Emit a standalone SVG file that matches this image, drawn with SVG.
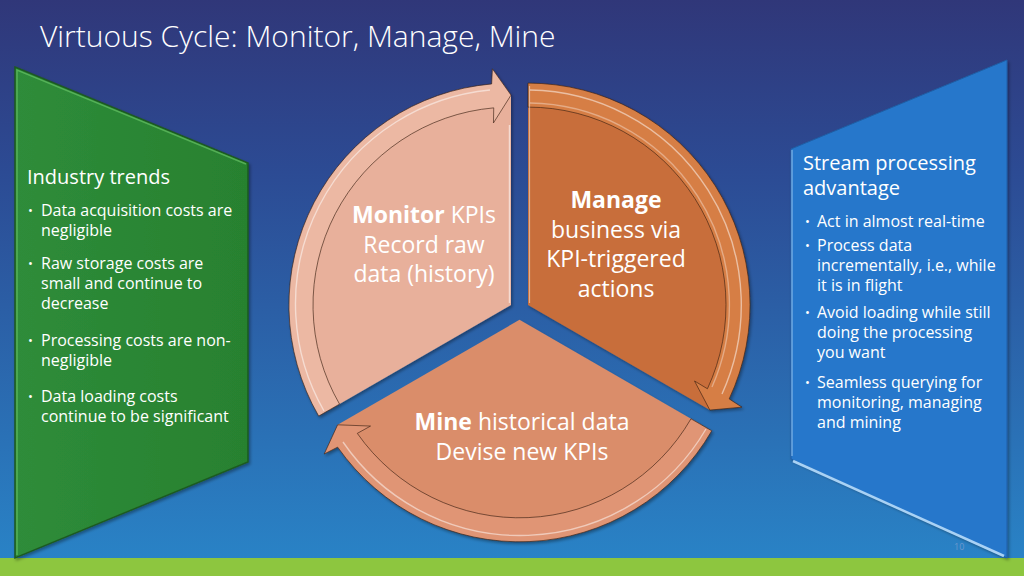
<svg xmlns="http://www.w3.org/2000/svg" width="1024" height="576" viewBox="0 0 1024 576">
<defs>
<linearGradient id="bg" x1="0" y1="0" x2="0" y2="1">
<stop offset="0" stop-color="#303779"/>
<stop offset="0.3" stop-color="#2C4B94"/>
<stop offset="1" stop-color="#2985C8"/>
</linearGradient>
<linearGradient id="gGreen" x1="0" y1="0" x2="1" y2="0">
<stop offset="0" stop-color="#2E8C3A"/>
<stop offset="1" stop-color="#28812F"/>
</linearGradient>
<filter id="sh" x="-10%" y="-10%" width="120%" height="120%">
<feDropShadow dx="1.5" dy="2" stdDeviation="1.5" flood-color="#000" flood-opacity="0.35"/>
</filter>
<style>
.t{font-family:"Open Sans","Noto Sans","Liberation Sans",sans-serif;fill:#FFFFFF;}
.title{font-size:30px;font-weight:300;}
.head{font-size:20px;}
.bul{font-size:16px;}
.dot{font-size:13px;}
.cyc{font-size:23px;text-anchor:middle;}
.b{font-weight:bold;}
.edge{fill:none;stroke:#3A2012;stroke-width:0.8;stroke-opacity:0.8;}
.hl{fill:none;stroke:#FFFFFF;stroke-width:1.4;stroke-opacity:0.5;}
.pg{font-family:"Open Sans","Liberation Sans",sans-serif;font-size:9px;fill:#6C98CC;}
</style>
</defs>
<rect x="0" y="0" width="1024" height="576" fill="url(#bg)"/>
<rect x="0" y="558" width="1024" height="18" fill="#8DC63F"/>
<text class="t title" x="40" y="47">Virtuous Cycle: Monitor, Manage, Mine</text>

<g id="industry-trends">
<polygon points="15,67 248,163 248,462 15,558" fill="url(#gGreen)" stroke="#1D5A22" stroke-width="1.5" filter="url(#sh)"/>
<polyline points="17,555 17,70 246,164" fill="none" stroke="#6FCB6C" stroke-width="1.5" stroke-opacity="0.6"/>
<text class="t head" x="27" y="184">Industry trends</text>
<g class="t bul">
<text class="dot" x="28" y="215">•</text><text x="41" y="216">Data acquisition costs are</text>
<text x="41" y="236">negligible</text>
<text class="dot" x="28" y="268">•</text><text x="41" y="269">Raw storage costs are</text>
<text x="41" y="289">small and continue to</text>
<text x="41" y="309">decrease</text>
<text class="dot" x="28" y="345">•</text><text x="41" y="346">Processing costs are non-</text>
<text x="41" y="366">negligible</text>
<text class="dot" x="28" y="401">•</text><text x="41" y="402">Data loading costs</text>
<text x="41" y="422">continue to be significant</text>
</g>
</g>

<g id="stream-processing">
<polygon points="791,149 1007,60 1007,558 791,459" fill="#2677CB" stroke="#1F5FA6" stroke-width="1" filter="url(#sh)"/>
<polyline points="792,456 792,150" fill="none" stroke="#8EC0EE" stroke-width="1.5" stroke-opacity="0.7"/>
<polyline points="793,461 1004,556" fill="none" stroke="#A9D2F5" stroke-width="2.5"/>
<text class="t head" x="803" y="170">Stream processing</text>
<text class="t head" x="803" y="195">advantage</text>
<g class="t bul">
<text class="dot" x="805" y="226">•</text><text x="817" y="227">Act in almost real-time</text>
<text class="dot" x="805" y="250">•</text><text x="817" y="251">Process data</text>
<text x="817" y="271">incrementally, i.e., while</text>
<text x="817" y="291">it is in flight</text>
<text class="dot" x="805" y="317">•</text><text x="817" y="318">Avoid loading while still</text>
<text x="817" y="338">doing the processing</text>
<text x="817" y="358">you want</text>
<text class="dot" x="805" y="387">•</text><text x="817" y="388">Seamless querying for</text>
<text x="817" y="408">monitoring, managing</text>
<text x="817" y="428">and mining</text>
</g>
</g>

<g id="monitor" filter="url(#sh)">
<path d="M511,305.1 L511,95.1 A210,210 0 0 0 329.13,410.1 Z" fill="#E8B09B"/>
<path d="M318.7,416.1 A222,222 0 0 1 491.65,83.95 L492.4,68.83 L511,95.1 L493.46,122.94 L493.74,107.85 A198,198 0 0 0 339.53,404.1 Z" class="edge" style="fill:#ECB8A3"/>
<path d="M324,411 A215,215 0 0 1 490,90" class="hl"/>
<line x1="509.5" y1="125" x2="509.5" y2="303" stroke="#FFF" stroke-width="1.5" stroke-opacity="0.55"/>
</g>
<g id="manage" filter="url(#sh)">
<path d="M528,305.1 L528,95.1 A210,210 0 0 1 709.87,410.1 Z" fill="#C86E3A"/>
<path d="M528,83.1 A222,222 0 0 1 729.2,398.92 L741.91,407.13 L709.87,410.1 L694.52,380.99 L707.45,388.78 A198,198 0 0 0 528,107.1 Z" class="edge" style="fill:#D67E45"/>
<path d="M530,90 A215,215 0 0 1 722,394" class="hl"/>
<path d="M530,103 A202,202 0 0 1 712,387" class="hl" style="stroke-opacity:0.35"/>
<line x1="529.5" y1="86" x2="529.5" y2="303" stroke="#FFF" stroke-width="1.2" stroke-opacity="0.45"/>
</g>
<g id="mine" filter="url(#sh)">
<path d="M519.5,319.8 L701.37,424.8 A210,210 0 0 1 337.63,424.8 Z" fill="#DA8D6B"/>
<path d="M711.76,430.8 A222,222 0 0 1 337.65,447.13 L324.18,454.04 L337.63,424.8 L370.52,426.07 L357.31,433.37 A198,198 0 0 0 690.97,418.8 Z" class="edge" style="fill:#E09575"/>
<path d="M706,429 A215,215 0 0 1 343,442" class="hl"/>
</g>

<g id="labels">
<text class="t cyc" x="424" y="223"><tspan class="b">Monitor</tspan> KPIs</text>
<text class="t cyc" x="424" y="253">Record raw</text>
<text class="t cyc" x="424" y="282">data (history)</text>
<text class="t cyc b" x="616" y="208">Manage</text>
<text class="t cyc" x="616" y="238">business via</text>
<text class="t cyc" x="616" y="267">KPI-triggered</text>
<text class="t cyc" x="616" y="297">actions</text>
<text class="t cyc" x="522" y="430"><tspan class="b">Mine</tspan> historical data</text>
<text class="t cyc" x="522" y="460">Devise new KPIs</text>
</g>
<text class="pg" x="954" y="550">10</text>
</svg>
